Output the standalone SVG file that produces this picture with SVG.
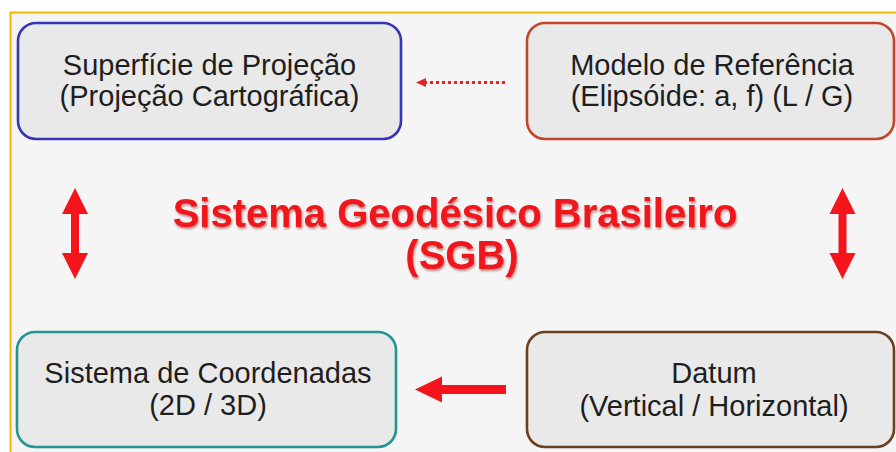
<svg xmlns="http://www.w3.org/2000/svg" width="896" height="452" viewBox="0 0 896 452">
  <defs>
    <style>
      .box { fill: #e9e9e9; stroke-width: 2.6; }
      .lbl { font-family: "Liberation Sans", Arial, sans-serif; font-size: 29px; fill: #1e1e1e; text-anchor: middle; }
      .title { font-family: "Liberation Sans", Arial, sans-serif; font-size: 40px; font-weight: bold; fill: #f0141b; text-anchor: middle; }
      .arr { fill: #f5141b; }
    </style>
    <filter id="shadow" x="-5%" y="-20%" width="110%" height="140%">
      <feDropShadow dx="1" dy="2" stdDeviation="1.2" flood-color="#7a0000" flood-opacity="0.45"/>
    </filter>
  </defs>

  <rect x="0" y="0" width="896" height="452" fill="#ffffff"/>
  <rect x="10" y="12" width="886" height="440" fill="#f5f5f5"/>
  <path d="M10.5 452 V12.5 H896" fill="none" stroke="#f5b400" stroke-width="2"/>

  <g id="node-superficie">
    <rect class="box" x="18" y="23" width="383" height="116" rx="18" stroke="#3535b5"/>
    <text class="lbl" x="209.5" y="75">Superfície de Projeção</text>
    <text class="lbl" x="209.5" y="106">(Projeção Cartográfica)</text>
  </g>

  <g id="node-modelo">
    <rect class="box" x="527" y="23" width="367" height="116" rx="18" stroke="#c2462a"/>
    <text class="lbl" x="712" y="75">Modelo de Referência</text>
    <text class="lbl" x="712" y="106">(Elipsóide: a, f) (L / G)</text>
  </g>

  <g id="node-coordenadas">
    <rect class="box" x="17" y="332" width="379" height="115" rx="18" stroke="#23948f"/>
    <text class="lbl" x="208" y="383">Sistema de Coordenadas</text>
    <text class="lbl" x="208" y="415">(2D / 3D)</text>
  </g>

  <g id="node-datum">
    <rect class="box" x="527" y="332" width="367" height="115" rx="18" stroke="#6b4020"/>
    <text class="lbl" x="714" y="383">Datum</text>
    <text class="lbl" x="714" y="416">(Vertical / Horizontal)</text>
  </g>

  <g id="title" filter="url(#shadow)">
    <text class="title" x="455" y="227">Sistema Geodésico Brasileiro</text>
    <text class="title" x="462" y="269">(SGB)</text>
  </g>

  <g id="connectors">
    <line x1="505" y1="82.5" x2="426" y2="82.5" stroke="#e8202a" stroke-width="3" stroke-dasharray="3 3"/>
    <polygon points="416,82.5 426,78 426,87" fill="#e8202a"/>
    <polygon class="arr" points="415,389.5 442,376.5 442,385 506,385 506,394 442,394 442,402.5"/>
    <polygon class="arr" points="75,188 88,214 79,214 79,253 88,253 75,279 62,253 71,253 71,214 62,214"/>
    <polygon class="arr" points="842.5,188 855.5,214 846.5,214 846.5,253 855.5,253 842.5,279 829.5,253 838.5,253 838.5,214 829.5,214"/>
  </g>
</svg>
